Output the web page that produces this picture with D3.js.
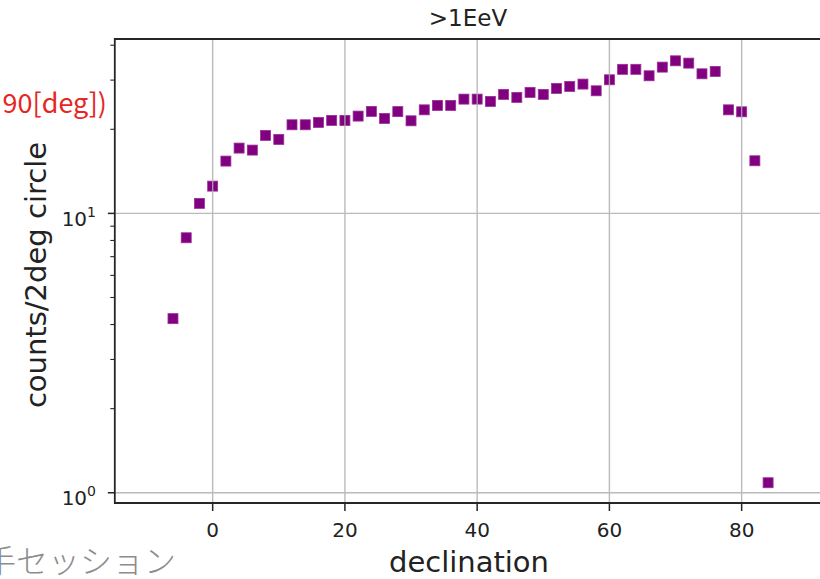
<!DOCTYPE html>
<html>
<head>
<meta charset="utf-8">
<script src="https://cdn.jsdelivr.net/npm/d3@7"></script>
<style>
  body { margin: 0; background: #fff; }
  svg { display: block; }
</style>
</head>
<body>
<div id="chart"></div>
<script>
// counts per 2deg declination band, >1EeV
const declination = [-6, -4, -2, 0, 2, 4, 6, 8, 10, 12, 14, 16, 18, 20, 22, 24, 26, 28, 30,
  32, 34, 36, 38, 40, 42, 44, 46, 48, 50, 52, 54, 56, 58, 60, 62, 64, 66, 68, 70, 72, 74,
  76, 78, 80, 82, 84];
const counts = [4.2, 8.18, 10.86, 12.52, 15.39, 17.13, 16.85, 19.02, 18.4, 20.76, 20.76,
  21.17, 21.52, 21.52, 22.3, 23.18, 21.88, 23.14, 21.45, 23.48, 24.35, 24.35, 25.65, 25.65,
  25.17, 26.67, 26.02, 27.11, 26.67, 28.02, 28.48, 29.03, 27.47, 30.08, 32.79, 32.79, 31.09,
  33.39, 35.17, 34.51, 31.6, 32.23, 23.48, 23.1, 15.43, 1.086];
const xTicks = [0, 20, 40, 60, 80];
const yMajorTicks = [1, 10];
const yMajorExp = ["0", "1"];

const WIDTH = 820, HEIGHT = 579;
const AX = { LEFT: 114.8, RIGHT: 821, TOP: 39, BOTTOM: 503 };

const svg = d3.select("#chart").append("svg")
  .attr("width", WIDTH)
  .attr("height", HEIGHT)
  .style("font-family", "'DejaVu Sans', sans-serif");

const x = d3.scaleLinear().domain([-14.8, 92]).range([AX.LEFT, AX.RIGHT]);
const y = d3.scaleLog().domain([0.919, 42.1]).range([AX.BOTTOM, AX.TOP]);

// markers
svg.append("g")
  .selectAll("rect")
  .data(declination.map((d, i) => ({ dec: d, n: counts[i] })))
  .join("rect")
  .attr("x", d => x(d.dec) - 5)
  .attr("y", d => y(d.n) - 5)
  .attr("width", 10)
  .attr("height", 10)
  .attr("fill", "#800080")
  .attr("stroke", "#9a2f9a")
  .attr("stroke-width", 0.8);

// grid (drawn over the markers, as in the original)
const grid = svg.append("g").attr("stroke", "#b0b0b0").attr("stroke-width", 1.4).attr("opacity", 0.85);
grid.selectAll(".gx").data(xTicks).join("line")
  .attr("x1", d => x(d)).attr("x2", d => x(d))
  .attr("y1", AX.TOP).attr("y2", AX.BOTTOM);
grid.selectAll(".gy").data(yMajorTicks).join("line")
  .attr("x1", AX.LEFT).attr("x2", WIDTH)
  .attr("y1", d => y(d)).attr("y2", d => y(d));

// spines
const spine = svg.append("g").attr("stroke", "#262626").attr("stroke-width", 1.8).attr("fill", "none");
spine.append("line").attr("x1", AX.LEFT).attr("x2", AX.LEFT).attr("y1", AX.TOP - 0.9).attr("y2", AX.BOTTOM + 0.9);
spine.append("line").attr("x1", AX.LEFT).attr("x2", WIDTH).attr("y1", AX.TOP).attr("y2", AX.TOP);
spine.append("line").attr("x1", AX.LEFT).attr("x2", WIDTH).attr("y1", AX.BOTTOM).attr("y2", AX.BOTTOM);

// x ticks
const xt = svg.append("g");
xt.selectAll("line").data(xTicks).join("line")
  .attr("x1", d => x(d)).attr("x2", d => x(d))
  .attr("y1", AX.BOTTOM).attr("y2", AX.BOTTOM + 8)
  .attr("stroke", "#262626").attr("stroke-width", 1.5);
xt.selectAll("text").data(xTicks).join("text")
  .attr("x", d => x(d)).attr("y", 537)
  .attr("text-anchor", "middle")
  .attr("font-size", "20px")
  .attr("fill", "#222")
  .text(d => d);

// y ticks: major + minor
const yMinor = y.ticks().filter(t => !yMajorTicks.includes(t) && t >= y.domain()[0] && t <= y.domain()[1]);
const yt = svg.append("g").attr("stroke", "#262626");
yt.selectAll(".maj").data(yMajorTicks).join("line")
  .attr("x1", AX.LEFT - 7).attr("x2", AX.LEFT)
  .attr("y1", d => y(d)).attr("y2", d => y(d))
  .attr("stroke-width", 1.5);
yt.selectAll(".min").data(yMinor).join("line")
  .attr("class", "min")
  .attr("x1", AX.LEFT - 4.5).attr("x2", AX.LEFT)
  .attr("y1", d => y(d)).attr("y2", d => y(d))
  .attr("stroke-width", 1.1);

const ylab = svg.append("g").attr("fill", "#222");
yMajorTicks.forEach((t, i) => {
  const label = ylab.append("text")
    .attr("x", 96)
    .attr("y", y(t) + 12.5)
    .attr("text-anchor", "end")
    .attr("font-size", "20px");
  label.append("tspan").text("10");
  label.append("tspan").attr("font-size", "14px").attr("dy", -9).text(yMajorExp[i]);
});

// title and axis labels
svg.append("text")
  .attr("x", 468).attr("y", 26)
  .attr("text-anchor", "middle")
  .attr("font-size", "23px")
  .attr("fill", "#222")
  .text(">1EeV");

svg.append("text")
  .attr("x", 469).attr("y", 572)
  .attr("text-anchor", "middle")
  .attr("font-size", "29px")
  .attr("fill", "#222")
  .text("declination");

svg.append("text")
  .attr("transform", "translate(46, 275) rotate(-90)")
  .attr("text-anchor", "middle")
  .attr("font-size", "29px")
  .attr("fill", "#222")
  .text("counts/2deg circle");

// slide fragments around the plot
svg.append("text")
  .attr("x", 107).attr("y", 113)
  .attr("text-anchor", "end")
  .attr("font-family", "'Noto Sans CJK JP', 'Noto Sans', sans-serif")
  .attr("font-size", "27px")
  .attr("fill", "#e6261f")
  .text("90[deg])");

svg.append("text")
  .attr("x", 176).attr("y", 573)
  .attr("text-anchor", "end")
  .attr("font-family", "'Noto Sans CJK JP', sans-serif")
  .attr("font-weight", 300)
  .attr("font-size", "32px")
  .attr("fill", "#8c8c8c")
  .text("手セッション");
</script>
</body>
</html>
